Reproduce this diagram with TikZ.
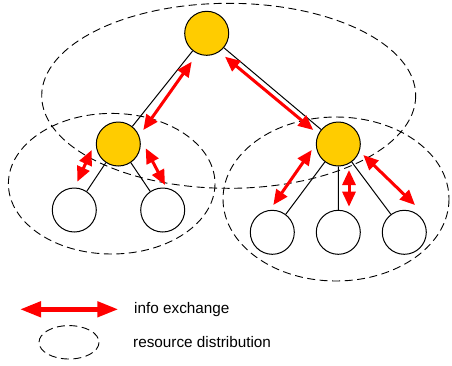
\documentclass[tikz,border=0pt]{standalone}
\usepackage{fontspec}
\setmainfont{Liberation Sans}
\usetikzlibrary{arrows.meta}
\definecolor{gold}{HTML}{FFCC00}
\tikzset{
  x=1pt,y=-1pt,
  inner/.style={circle,draw,line width=1pt,minimum size=44pt,inner sep=0pt,fill=gold},
  leaf/.style={circle,draw,line width=1pt,minimum size=44pt,inner sep=0pt,fill=white},
  group/.style={draw,dashed,dash pattern=on 8pt off 4.5pt,line width=0.9pt},
  info/.style={red,line width=3pt,{Triangle[length=15pt,width=13pt]}-{Triangle[length=15pt,width=13pt]}},
  link/.style={line width=1pt}
}

\begin{document}
\begin{tikzpicture}[font=\fontsize{15.3}{18}\selectfont]
        \useasboundingbox (0,0) rectangle (452,365);
        % groups
        \draw[group] (228.7,95.8) ellipse [x radius=187, y radius=92.5];
        \draw[group] (111.7,183.7) ellipse [x radius=103.3, y radius=70.3];
        \draw[group] (336,199) ellipse [x radius=113, y radius=82];
        % tree
        \node[inner] (r) at (206.7,33.3) {};
        \node[inner] (a) at (118.3,144) {};
        \node[inner] (b) at (338.3,144) {};
        \node[leaf] (a1) at (74.3,210) {};
        \node[leaf] (a2) at (162.7,210) {};
        \node[leaf] (b1) at (272.3,232.3) {};
        \node[leaf] (b2) at (338.3,232.3) {};
        \node[leaf] (b3) at (404.3,232.3) {};
        \draw[link] (r) -- (a)
        (r) -- (b)
        (a) -- (a1)
        (a) -- (a2)
        (b) -- (b1)
        (b) -- (b2)
        (b) -- (b3);
        % exchange ends
        \coordinate (ra1) at (191.7,61.7);
        \coordinate (ra2) at (143.3,130);
        \coordinate (rb1) at (225,56.7);
        \coordinate (rb2) at (313.3,130);
        \coordinate (aa1) at (91.7,150);
        \coordinate (aa2) at (77.3,181.7);
        \coordinate (ab1) at (145.7,148.3);
        \coordinate (ab2) at (165,185);
        \coordinate (ba1) at (311.7,150);
        \coordinate (ba2) at (273.3,205);
        \coordinate (bb1) at (349,170);
        \coordinate (bb2) at (349,206.7);
        \coordinate (bc1) at (363.3,155);
        \coordinate (bc2) at (415,205);
        \draw[info] (ra1) -- (ra2);
        \draw[info] (rb1) -- (rb2);
        \draw[info] (aa1) -- (aa2);
        \draw[info] (ab1) -- (ab2);
        \draw[info] (ba1) -- (ba2);
        \draw[info] (bb1) -- (bb2);
        \draw[info] (bc1) -- (bc2);
        % legend
        \coordinate (l1) at (20,309.3);
        \coordinate (l2) at (118.3,309.3);
        \draw[info,line width=4.5pt,{Triangle[length=21pt,width=15pt]}-{Triangle[length=21pt,width=15pt]}] (l1) -- (l2);
        \node[anchor=west,inner sep=0pt] (t1) at (134,309.3) {info exchange};
        \draw[group] (69,342.3) ellipse [x radius=30, y radius=16.7];
        \node[anchor=west,inner sep=0pt] (t2) at (133,342) {resource distribution};
\end{tikzpicture}
\end{document}
